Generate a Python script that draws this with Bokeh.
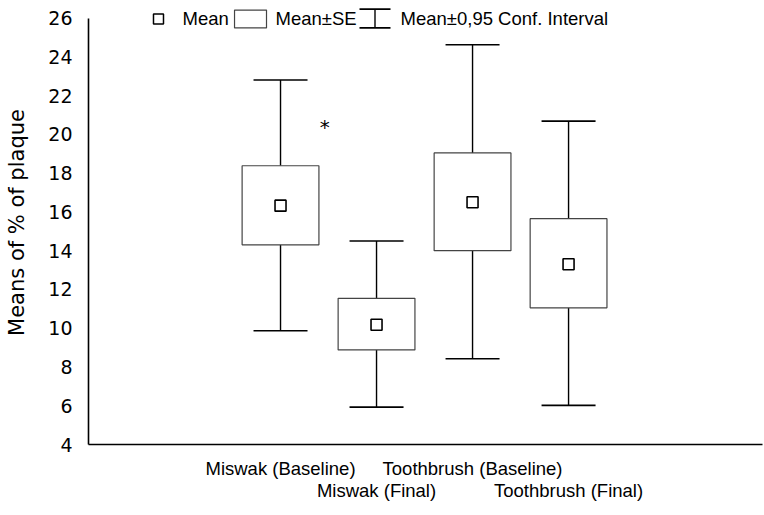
from bokeh.plotting import figure
from bokeh.models import Range1d, LinearAxis, FixedTicker
from bokeh.core.properties import value
from bokeh.embed import file_html
from bokeh.resources import INLINE

# ---- data ----
categories = ["Miswak (Baseline)", "Miswak (Final)", "Toothbrush (Baseline)", "Toothbrush (Final)"]
positions = [2, 3, 4, 5]
means = [16.32, 10.18, 16.5, 13.3]
se_low = [14.3, 8.88, 14.0, 11.05]
se_high = [18.38, 11.54, 19.04, 15.65]
ci_low = [9.87, 5.93, 8.42, 6.02]
ci_high = [22.8, 14.5, 24.62, 20.68]
y_ticks = [4, 6, 8, 10, 12, 14, 16, 18, 20, 22, 24, 26]
star_x, star_y = [2.46], [20.4]

TICK_FONT = "DejaVu Sans"
TEXT_FONT = "Liberation Sans"

p = figure(width=764, height=515, output_backend="svg", toolbar_location=None,
           x_range=Range1d(0, 7.02), y_range=Range1d(4, 26.904),
           x_axis_location=None, min_border_top=0, min_border_right=2,
           min_border_left=88, min_border_bottom=71)
p.outline_line_color = None
p.grid.visible = False
p.background_fill_color = "white"

# y axis
ya = p.yaxis[0]
ya.ticker = FixedTicker(ticks=y_ticks)
ya.bounds = (4, 26)
ya.axis_line_width = 1.6
ya.axis_line_color = "black"
ya.major_tick_line_color = None
ya.minor_tick_line_color = None
ya.major_label_text_font = TICK_FONT
ya.major_label_text_font_size = "19px"
ya.major_label_text_color = "black"
ya.major_label_standoff = 10
ya.axis_label = "Means of % of plaque"
ya.axis_label_text_font = TICK_FONT
ya.axis_label_text_font_size = "21px"
ya.axis_label_text_font_style = "normal"
ya.axis_label_text_color = "black"
ya.axis_label_standoff = 16

# staggered category axes
first = LinearAxis(ticker=FixedTicker(ticks=positions[0::2]),
                   major_label_overrides={pos: c for pos, c in zip(positions[0::2], categories[0::2])})
second = LinearAxis(ticker=FixedTicker(ticks=positions[1::2]),
                    major_label_overrides={pos: c for pos, c in zip(positions[1::2], categories[1::2])})
for ax in (first, second):
    ax.major_tick_line_color = None
    ax.minor_tick_line_color = None
    ax.major_label_text_font = TEXT_FONT
    ax.major_label_text_font_size = "18.5px"
    ax.major_label_text_color = "black"
first.axis_line_width = 1.6
first.axis_line_color = "black"
first.major_label_standoff = 7
second.axis_line_color = None
second.major_label_standoff = -8
p.add_layout(first, "below")
p.add_layout(second, "below")

# whiskers (0.95 CI)
p.segment(x0=positions, y0=se_high, x1=positions, y1=ci_high, line_color="black", line_width=1.4)
p.segment(x0=positions, y0=ci_low, x1=positions, y1=se_low, line_color="black", line_width=1.4)
p.scatter(x=positions, y=ci_high, marker="dash", size=54, line_color="black", line_width=1.6)
p.scatter(x=positions, y=ci_low, marker="dash", size=54, line_color="black", line_width=1.6)

# SE boxes
p.vbar(x=positions, width=0.8, bottom=se_low, top=se_high, fill_color="white",
       line_color="#444444", line_width=1.2)

# means
p.scatter(x=positions, y=means, marker="square", size=11, fill_color="white",
          line_color="black", line_width=1.6)

# significance star
p.text(x=star_x, y=star_y, text=["*"], text_font=value(TICK_FONT), text_font_size="20px",
       text_align="center", text_baseline="alphabetic", text_color="black")

# ---- hand-drawn legend row at the top ----
leg_y = 25.95
p.scatter(x=[0.729], y=[leg_y], marker="square", size=10, fill_color="white",
          line_color="black", line_width=1.5)
p.quad(left=[1.521], right=[1.854], bottom=[25.49], top=[26.41], fill_color="white",
       line_color="#444444", line_width=1.2)
p.segment(x0=[2.984], y0=[25.49], x1=[2.984], y1=[26.46], line_color="black", line_width=1.4)
p.scatter(x=[2.984, 2.984], y=[25.49, 26.46], marker="dash", size=31, line_color="black", line_width=1.6)
p.text(x=[0.979, 1.948, 3.25], y=[leg_y] * 3,
       text=["Mean", "Mean\u00b1SE", "Mean\u00b10,95 Conf. Interval"],
       text_font=value(TEXT_FONT), text_font_size="18.5px", text_align="left",
       text_baseline="middle", text_color="black")

open("out.html", "w").write(file_html(p, INLINE))
